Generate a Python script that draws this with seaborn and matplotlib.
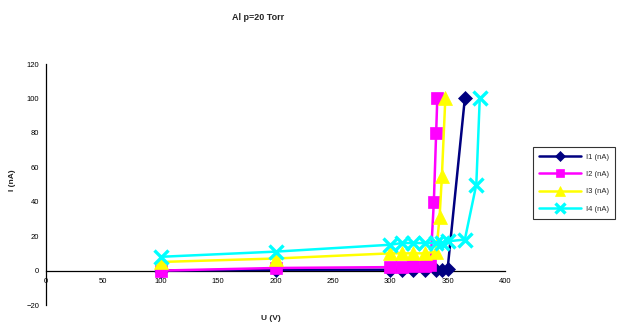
import matplotlib
matplotlib.use("Agg")
import matplotlib.pyplot as plt
import seaborn as sns
import pandas as pd

# Current vs. voltage for an Al cathode at 20 Torr
u1 = [100, 200, 300, 310, 320, 330, 340, 345, 350, 365]
i1 = [0, 0.5, 0.5, 0.5, 0.5, 0.5, 0.5, 0.5, 1, 100]

u2 = [100, 200, 300, 310, 320, 330, 335, 338, 340, 341]
i2 = [0, 1.5, 2, 2, 2.5, 2.5, 3, 40, 80, 100]

u3 = [100, 200, 300, 310, 320, 330, 340, 343, 345, 345, 348]
i3 = [5, 7, 10, 10, 10, 10, 11, 31, 50, 60, 100]

u4 = [100, 200, 300, 310, 320, 330, 340, 345, 350, 365, 375, 378]
i4 = [8, 11, 15, 16, 16, 16, 16, 16, 17, 18, 50, 100]

series_names = ["I1 (nA)", "I2 (nA)", "I3 (nA)", "I4 (nA)"]
colors = ["#000080", "#FF00FF", "#FFFF00", "#00FFFF"]
markers = ["D", "s", "^", "x"]
marker_sizes = [7.5, 9, 9.5, 9.5]

x_ticks = [0, 50, 100, 150, 200, 250, 300, 350, 400]
y_ticks = [-20, 0, 20, 40, 60, 80, 100, 120]

sns.set_style("white")
plt.rcParams["font.family"] = ["Liberation Sans", "DejaVu Sans"]

fig = plt.figure(figsize=(6.18, 3.26), dpi=100)
ax = fig.add_axes([46 / 618, 1 - 305 / 326, 459 / 618, 241 / 326])

frames = []
for name, u, i in zip(series_names, [u1, u2, u3, u4], [i1, i2, i3, i4]):
    frames.append(pd.DataFrame({"U": u, "I": i, "series": name}))
df = pd.concat(frames, ignore_index=True)

for name, c, m, ms in zip(series_names, colors, markers, marker_sizes):
    d = df[df["series"] == name]
    sns.lineplot(data=d, x="U", y="I", sort=False, ax=ax, color=c,
                 marker=m, markersize=ms, linewidth=1.8, label=name,
                 markeredgecolor=c, markeredgewidth=2.4 if m == "x" else 0.5,
                 clip_on=False, zorder=3)

ax.set_xlim(0, 400)
ax.set_ylim(-20, 120)
ax.set_xticks(x_ticks)
ax.set_yticks(y_ticks)
ax.set_xlabel("")
ax.set_ylabel("")

for s in ["top", "right"]:
    ax.spines[s].set_visible(False)
ax.spines["left"].set_position(("data", 0))
ax.spines["bottom"].set_position(("data", 0))
for s in ["left", "bottom"]:
    ax.spines[s].set_color("black")
    ax.spines[s].set_linewidth(0.9)
ax.tick_params(axis="both", direction="out", length=3, width=0.8,
               colors="black", labelsize=5.5, pad=2)
ax.grid(False)

fig.text(258 / 618, 1 - 17 / 326, "Al p=20 Torr", ha="center", va="center",
         fontsize=6.5, fontweight="bold")
fig.text(271 / 618, 1 - 318 / 326, "U (V)", ha="center", va="center",
         fontsize=6, fontweight="bold")
fig.text(13 / 618, 1 - 180 / 326, "I (nA)", ha="center", va="center",
         fontsize=6, fontweight="bold", rotation=90)

leg = ax.legend(loc="center left", bbox_to_anchor=(533 / 618, 1 - 183 / 326),
                bbox_transform=fig.transFigure, frameon=True, fancybox=False,
                fontsize=5.5, handlelength=5.5, handletextpad=0.6,
                labelspacing=1.3, markerscale=0.7, borderpad=0.8,
                borderaxespad=0)
leg.get_frame().set_edgecolor("black")
leg.get_frame().set_linewidth(0.8)

fig.savefig("out.png", dpi=100)
